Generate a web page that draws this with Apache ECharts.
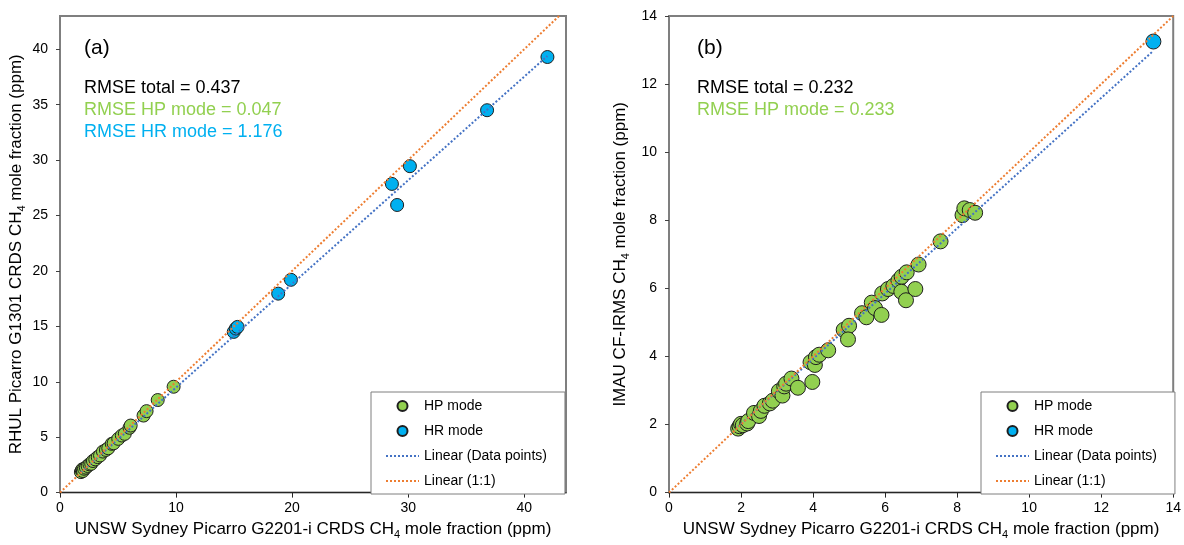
<!DOCTYPE html>
<html>
<head>
<meta charset="utf-8">
<script src="https://cdn.jsdelivr.net/npm/echarts@6/dist/echarts.min.js"></script>
<style>
  html, body { margin: 0; padding: 0; background: #fff; }
  #chart { width: 1184px; height: 545px; }
</style>
</head>
<body>
<div id="chart"></div>
<script>
// panel (a): UNSW vs RHUL, ppm
const hpA = [
  [1.8, 1.85], [1.88, 2.0], [1.93, 2.1], [1.98, 1.95], [2.08, 2.15], [2.23, 2.25],
  [2.38, 2.4], [2.54, 2.55], [2.69, 2.6], [2.84, 2.85], [3.04, 3.0], [3.25, 3.2],
  [3.45, 3.35], [3.7, 3.7], [3.96, 3.85], [4.16, 4.0], [4.46, 4.4], [4.62, 4.45],
  [5.02, 4.85], [5.33, 5.15], [5.58, 5.3], [5.99, 5.85], [6.09, 6.05], [7.2, 6.95],
  [7.46, 7.35], [8.42, 8.35], [9.79, 9.55]
];
const hrA = [
  [14.97, 14.5], [15.15, 14.8], [15.3, 14.95], [18.8, 17.95], [19.9, 19.2],
  [28.6, 27.85], [29.05, 25.95], [30.15, 29.45], [36.8, 34.5], [42.0, 39.3]
];
const fitA = [[1.8, 1.81], [42.0, 39.4]];
const oneA = [[0, 0], [43, 43]];

// panel (b): UNSW vs IMAU, ppm
const hpB = [
  [1.92, 1.88], [1.96, 1.95], [2.0, 2.02], [2.05, 1.98], [2.17, 2.03], [2.2, 2.1],
  [2.36, 2.34], [2.5, 2.25], [2.55, 2.4], [2.65, 2.55], [2.8, 2.62], [2.88, 2.7],
  [3.05, 2.98], [3.15, 2.85], [3.2, 3.12], [3.25, 3.2], [3.4, 3.35], [3.58, 3.08],
  [3.98, 3.25], [3.93, 3.83], [4.05, 3.75], [4.08, 3.98], [4.17, 4.05], [4.42, 4.18],
  [4.85, 4.78], [5.0, 4.9], [4.97, 4.5], [5.36, 5.27], [5.48, 5.15], [5.63, 5.58],
  [5.72, 5.42], [5.9, 5.22], [5.92, 5.85], [6.08, 5.98], [6.23, 6.07], [6.37, 6.23],
  [6.46, 6.34], [6.6, 6.47], [6.45, 5.9], [6.58, 5.65], [6.84, 5.98], [6.93, 6.7],
  [7.54, 7.38], [8.15, 8.15], [8.2, 8.35], [8.35, 8.3], [8.5, 8.22]
];
const hrB = [[13.45, 13.25]];
const fitB = [[1.92, 1.94], [13.45, 12.98]];
const oneB = [[0, 0], [14, 14]];

const legendNames = ["HP mode", "HR mode", "Linear (Data points)", "Linear (1:1)"];
const xNameA = "UNSW Sydney Picarro G2201-i CRDS CH";
const yNameA = "RHUL Picarro G1301 CRDS CH";
const yNameB = "IMAU CF-IRMS CH";
const statsA = ["RMSE total = 0.437", "RMSE HP mode = 0.047", "RMSE HR mode = 1.176"];
const statsB = ["RMSE total = 0.232", "RMSE HP mode = 0.233"];

const FONT = "'Liberation Sans', Arial, sans-serif";
const GREEN = "#92d050";
const BLUE = "#00b0f0";
const FIT = "#4472c4";
const ONE = "#ed7d31";

const chart = echarts.init(document.getElementById("chart"), null, { renderer: "canvas" });

function nameStyle(){
  return {
    fontFamily: FONT, fontSize: 17, color: "#000",
    rich: {
      a: { fontFamily: FONT, fontSize: 17, lineHeight: 22, color: "#000" },
      s: { fontFamily: FONT, fontSize: 11, lineHeight: 11, color: "#000", verticalAlign: "bottom" }
    }
  };
}
function subName(base){ return "{a|" + base + "}{s|4}{a| mole fraction (ppm)}"; }

function xAxis(grid, max, interval, showMax){
  return {
    type: "value", gridIndex: grid, min: 0, max, interval,
    name: subName(xNameA), nameLocation: "middle", nameGap: 23,
    nameTextStyle: nameStyle(),
    axisLine: { lineStyle: { color: "#262626", width: 1 } },
    axisTick: { length: 5, lineStyle: { color: "#262626" } },
    axisLabel: { fontFamily: FONT, fontSize: 14, color: "#000", margin: 9, showMaxLabel: showMax },
    splitLine: { show: false }
  };
}
function yAxis(grid, max, interval, name, showMax, gap){
  return {
    type: "value", gridIndex: grid, min: 0, max, interval,
    name: subName(name), nameLocation: "middle", nameGap: gap, nameRotate: 90,
    nameTextStyle: nameStyle(),
    axisLine: { lineStyle: { color: "#7f7f7f", width: 2 } },
    axisTick: { length: 4, lineStyle: { color: "#404040" } },
    axisLabel: { fontFamily: FONT, fontSize: 14, color: "#000", margin: 12, showMaxLabel: showMax },
    splitLine: { show: false }
  };
}
function scatter(name, data, axis, color, size){
  return {
    name, type: "scatter", xAxisIndex: axis, yAxisIndex: axis, data,
    symbol: "circle", symbolSize: size, z: 2,
    itemStyle: { color, borderColor: "#1f1f1f", borderWidth: 1, opacity: 1 }
  };
}
function line(name, data, axis, color){
  return {
    name, type: "line", xAxisIndex: axis, yAxisIndex: axis, data,
    symbol: "none", z: 3, silent: true,
    itemStyle: { color },
    lineStyle: { color, width: 2, type: [2, 2] }
  };
}
const hideDot = { color: "rgba(0,0,0,0)", borderColor: "rgba(0,0,0,0)", borderWidth: 0 };
function legend(left){
  return {
    orient: "vertical", left, top: 392,
    padding: [7, 18, 6, 14], itemGap: 11, itemWidth: 33, itemHeight: 10,
    borderColor: "#7f7f7f", borderWidth: 1, backgroundColor: "#fff",
    textStyle: { fontFamily: FONT, fontSize: 14, color: "#000" },
    selectedMode: false,
    data: [
      { name: legendNames[0], icon: "circle" },
      { name: legendNames[1], icon: "circle" },
      { name: legendNames[2], itemStyle: hideDot },
      { name: legendNames[3], itemStyle: hideDot }
    ]
  };
}
function statText(x, y, text, color, size){
  return { type: "text", left: x, top: y, style: { text, fill: color, font: size + "px " + FONT } };
}

chart.setOption({
  animation: false,
  backgroundColor: "#fff",
  grid: [
    { left: 60, top: 16, width: 506, height: 478, show: true, borderColor: "#7f7f7f", borderWidth: 2 },
    { left: 669, top: 16, width: 507, height: 478, show: true, borderColor: "#7f7f7f", borderWidth: 2 }
  ],
  xAxis: [xAxis(0, 43.6, 10, false), xAxis(1, 14, 2, true)],
  yAxis: [yAxis(0, 43, 5, yNameA, false, 33), yAxis(1, 14, 2, yNameB, true, 38)],
  legend: [legend(371), legend(981)],
  graphic: [
    statText(84, 38, "(a)", "#000", 21),
    statText(84, 79, statsA[0], "#000", 18),
    statText(84, 101, statsA[1], GREEN, 18),
    statText(84, 123, statsA[2], BLUE, 18),
    statText(697, 38, "(b)", "#000", 21),
    statText(697, 79, statsB[0], "#000", 18),
    statText(697, 101, statsB[1], GREEN, 18)
  ],
  series: [
    scatter(legendNames[0], hpA, 0, GREEN, 13),
    scatter(legendNames[1], hrA, 0, BLUE, 13),
    line(legendNames[2], fitA, 0, FIT),
    line(legendNames[3], oneA, 0, ONE),
    scatter(legendNames[0], hpB, 1, GREEN, 15),
    scatter(legendNames[1], hrB, 1, BLUE, 15),
    line(legendNames[2], fitB, 1, FIT),
    line(legendNames[3], oneB, 1, ONE)
  ]
});

window.addEventListener("resize", () => chart.resize());
</script>
</body>
</html>
